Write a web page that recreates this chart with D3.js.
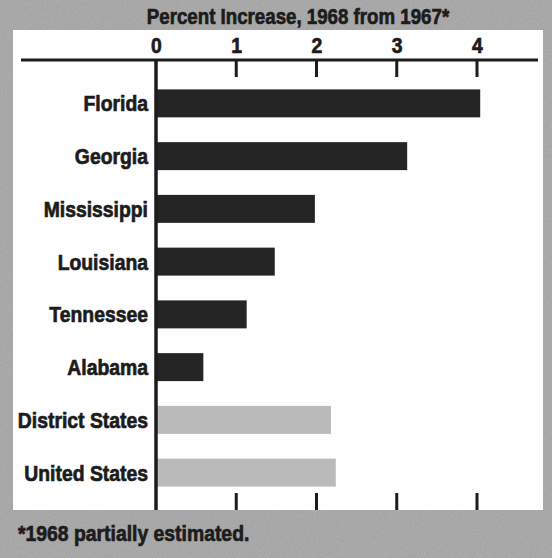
<!DOCTYPE html>
<html>
<head>
<meta charset="utf-8">
<script src="https://cdn.jsdelivr.net/npm/d3@7"></script>
<style>
  html, body { margin: 0; padding: 0; background: #a4a4a4; }
  svg { display: block; }
  text { font-family: "Liberation Sans", Arial, sans-serif; font-weight: bold; fill: #1c1c1c; stroke: #1c1c1c; stroke-width: 0.7px; }
</style>
</head>
<body>
<svg id="chart" width="552" height="558"></svg>
<script>
// Percent increase, 1968 over 1967
const states = ["Florida", "Georgia", "Mississippi", "Louisiana", "Tennessee", "Alabama", "District States", "United States"];
const increase = [4.04, 3.13, 1.98, 1.48, 1.13, 0.59, 2.18, 2.24];
const groups = ["state", "state", "state", "state", "state", "state", "total", "total"];
const tickValues = [0, 1, 2, 3, 4];

const title = "Percent Increase, 1968 from 1967*";
const footnote = "*1968 partially estimated.";

const W = 552, H = 558;
const panel = { x0: 13, y0: 30, x1: 543, y1: 510 };
const axisY = 60;
const squeeze = 0.88;   // horizontal compression giving a condensed face
const fontSize = 22;

const svg = d3.select("#chart");

// grainy grey backdrop
const defs = svg.append("defs");
const grain = defs.append("filter").attr("id", "grain").attr("x", 0).attr("y", 0).attr("width", "100%").attr("height", "100%");
grain.append("feTurbulence").attr("type", "fractalNoise").attr("baseFrequency", 0.9).attr("numOctaves", 2).attr("seed", 4).attr("result", "noise");
grain.append("feColorMatrix").attr("in", "noise").attr("type", "matrix")
  .attr("values", "0 0 0 0 0.64  0 0 0 0 0.64  0 0 0 0 0.64  0.9 0 0 0 -0.3").attr("result", "speck");
grain.append("feComposite").attr("in", "speck").attr("in2", "SourceGraphic").attr("operator", "over");

svg.append("rect").attr("width", W).attr("height", H).attr("fill", "#a4a4a4");
svg.append("rect").attr("width", W).attr("height", H).attr("fill", "#a4a4a4").attr("filter", "url(#grain)").attr("opacity", 0.5);

// white chart panel
svg.append("rect")
  .attr("x", panel.x0).attr("y", panel.y0)
  .attr("width", panel.x1 - panel.x0).attr("height", panel.y1 - panel.y0)
  .attr("fill", "#fefefe");

const x = d3.scaleLinear().domain([0, 4]).range([156, 477]);
const y = d3.scaleBand().domain(states).range([77, 499]).paddingInner(0.47).paddingOuter(0.235);

// condensed bold text placed at (tx, ty)
function label(parent, tx, ty, str, anchor, dy, k) {
  return parent.append("text")
    .attr("transform", `translate(${tx},${ty}) scale(${k || squeeze},1)`)
    .attr("text-anchor", anchor || "start")
    .attr("dy", dy || 0)
    .style("font-size", fontSize + "px")
    .text(str);
}

// title
label(svg, 298, 24, title, "middle", 0, 0.85);

// top axis: numerals above a heavy rule
const topAxis = d3.axisTop(x).tickValues(tickValues).tickSize(0).tickPadding(0).tickFormat(d3.format("d"));
const gTop = svg.append("g").attr("transform", `translate(0,${53})`).call(topAxis);
gTop.select(".domain").remove();
gTop.selectAll("text")
  .attr("dy", 0)
  .attr("fill", "#1c1c1c")
  .attr("transform", `scale(${squeeze},1)`)
  .attr("x", 0)
  .style("font-size", fontSize + "px")
  .style("font-family", "'Liberation Sans', Arial, sans-serif")
  .style("font-weight", "bold");

svg.append("line")
  .attr("x1", 21).attr("x2", 538)
  .attr("y1", axisY).attr("y2", axisY)
  .attr("stroke", "#1c1c1c").attr("stroke-width", 3);

// short ticks hanging below the top rule and rising from the panel base
const minor = tickValues.filter(d => d > 0);
svg.append("g").selectAll("line").data(minor).join("line")
  .attr("x1", d => x(d)).attr("x2", d => x(d))
  .attr("y1", axisY).attr("y2", axisY + 17)
  .attr("stroke", "#1c1c1c").attr("stroke-width", 3);
svg.append("g").selectAll("line").data(minor).join("line")
  .attr("x1", d => x(d)).attr("x2", d => x(d))
  .attr("y1", panel.y1 - 17).attr("y2", panel.y1)
  .attr("stroke", "#1c1c1c").attr("stroke-width", 3);

// bars
const rows = states.map((s, i) => ({ state: s, value: increase[i], group: groups[i] }));
svg.append("g").selectAll("rect").data(rows).join("rect")
  .attr("x", x(0))
  .attr("y", d => y(d.state))
  .attr("width", d => x(d.value) - x(0))
  .attr("height", y.bandwidth())
  .attr("fill", d => d.group === "state" ? "#252525" : "#bababa");

// category labels
const gLabels = svg.append("g");
rows.forEach(d => label(gLabels, 148, y(d.state) + y.bandwidth() / 2, d.state, "end", "0.36em"));

// vertical zero line
svg.append("line")
  .attr("x1", x(0)).attr("x2", x(0))
  .attr("y1", axisY).attr("y2", panel.y1)
  .attr("stroke", "#1c1c1c").attr("stroke-width", 3.5);

// footnote
label(svg, 18, 541, footnote, "start");
</script>
</body>
</html>
